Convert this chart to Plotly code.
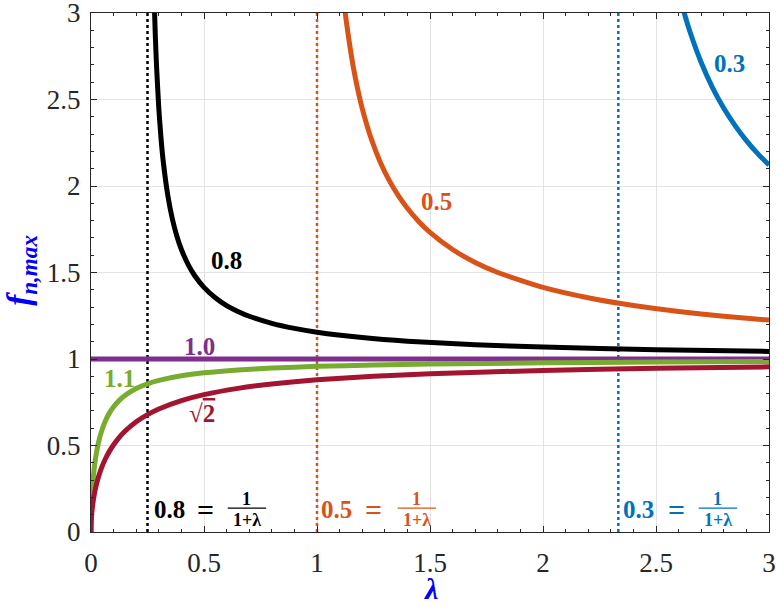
import plotly.graph_objects as go

# lambda samples and f_n,max values
lam_08 = [0.28, 0.285, 0.29, 0.30, 0.31, 0.32, 0.34, 0.36, 0.38, 0.40, 0.43, 0.46, 0.50, 0.55, 0.60, 0.65, 0.70,
          0.80, 0.90, 1.00, 1.20, 1.40, 1.70, 2.00, 2.50, 3.00]
f_08 = [3.055, 2.854, 2.693, 2.449, 2.273, 2.138, 1.944, 1.809, 1.710, 1.633, 1.546, 1.480, 1.414, 1.354, 1.309, 1.275, 1.247,
        1.206, 1.177, 1.155, 1.124, 1.103, 1.083, 1.069, 1.054, 1.044]

lam_05 = [1.11, 1.12, 1.13, 1.15, 1.17, 1.20, 1.24, 1.28, 1.32, 1.36, 1.40, 1.45, 1.50, 1.60, 1.70, 1.80, 2.00,
          2.20, 2.40, 2.60, 2.80, 3.00]
f_05 = [3.177, 3.055, 2.948, 2.769, 2.623, 2.449, 2.273, 2.138, 2.031, 1.944, 1.871, 1.795, 1.732, 1.633, 1.558, 1.500, 1.414,
        1.354, 1.309, 1.275, 1.247, 1.225]

lam_03 = [2.60, 2.62, 2.65, 2.70, 2.75, 2.80, 2.85, 2.90, 2.95, 3.00]
f_03 = [3.122, 3.023, 2.893, 2.714, 2.569, 2.449, 2.349, 2.262, 2.187, 2.121]

lam_10 = [0.0, 3.0]
f_10 = [1.0, 1.0]

lam_low = [0.0, 0.001, 0.0025, 0.005, 0.0075, 0.01, 0.015, 0.02, 0.03, 0.04, 0.05, 0.065, 0.08, 0.10, 0.125, 0.15,
           0.20, 0.25, 0.30, 0.40, 0.50, 0.65, 0.80, 1.00, 1.25, 1.50, 2.00, 2.50, 3.00]
f_11 = [0.0, 0.1043, 0.1636, 0.2283, 0.2761, 0.3148, 0.3764, 0.4247, 0.4981, 0.5528, 0.5957, 0.6457, 0.6842, 0.7237, 0.7609, 0.7891,
        0.8292, 0.8563, 0.8760, 0.9027, 0.9199, 0.9367, 0.9476, 0.9574, 0.9655, 0.9710, 0.9780, 0.9823, 0.9852]
f_sq2 = [0.0, 0.0583, 0.0920, 0.1296, 0.1580, 0.1817, 0.2207, 0.2528, 0.3048, 0.3466, 0.3819, 0.4262, 0.4632, 0.5045, 0.5469, 0.5820,
         0.6370, 0.6786, 0.7113, 0.7598, 0.7941, 0.8303, 0.8556, 0.8795, 0.9001, 0.9147, 0.9340, 0.9461, 0.9545]

# boundaries where g = 1/(1+lambda)
bound_g = ["0.8", "0.5", "0.3"]
bound_lam = [0.25, 1.0, 2.3333]

tick_vals = [0, 0.5, 1, 1.5, 2, 2.5, 3]
tick_text = ["0", "0.5", "1", "1.5", "2", "2.5", "3"]

BLACK = "#000000"
ORANGE = "#D95319"
BLUE = "#0072BD"
PURPLE = "#7E2F8E"
GREEN = "#77AC30"
RED = "#A2142F"
bound_colors = [BLACK, ORANGE, BLUE]

FONT = "Liberation Serif"

fig = go.Figure()

for lx, c in zip(bound_lam, bound_colors):
    fig.add_trace(go.Scatter(x=[lx, lx], y=[0, 3], mode="lines",
                             line=dict(color=c, width=2.5, dash="dot"),
                             hoverinfo="skip", showlegend=False))

curves = [
    (lam_03, f_03, BLUE),
    (lam_05, f_05, ORANGE),
    (lam_08, f_08, BLACK),
    (lam_10, f_10, PURPLE),
    (lam_low, f_11, GREEN),
    (lam_low, f_sq2, RED),
]
for xs, ys, c in curves:
    fig.add_trace(go.Scatter(x=xs, y=ys, mode="lines",
                             line=dict(color=c, width=5, shape="spline", smoothing=0.5),
                             showlegend=False))

# curve labels
labels = [
    (2.823, 2.71, "0.3", BLUE),
    (1.53, 1.91, "0.5", ORANGE),
    (0.60, 1.57, "0.8", BLACK),
    (0.482, 1.075, "1.0", PURPLE),
    (0.128, 0.89, "1.1", GREEN),
    (0.49, 0.685, "√<span style='text-decoration:overline'>2</span>", RED),
]
for x, y, t, c in labels:
    fig.add_annotation(x=x, y=y, text="<b>" + t + "</b>", showarrow=False,
                       font=dict(family=FONT, size=25, color=c))

# boundary labels  "g = 1/(1+λ)"
eq_x = [0.268, 1.01, 2.345]
eq_sign = [0.505, 1.252, 2.59]
frac_c = [0.69, 1.442, 2.774]
for g, ex, es, fc, c in zip(bound_g, eq_x, eq_sign, frac_c, bound_colors):
    fig.add_annotation(x=ex, y=0.13, text="<b>" + g + "</b>", showarrow=False,
                       xanchor="left", font=dict(family=FONT, size=25, color=c))
    fig.add_annotation(x=es, y=0.13, text="<b>=</b>", showarrow=False,
                       font=dict(family=FONT, size=30, color=c))
    fig.add_annotation(x=fc, y=0.19, text="<b>1</b>", showarrow=False,
                       font=dict(family=FONT, size=18, color=c))
    fig.add_annotation(x=fc, y=0.072, text="<b>1+λ</b>", showarrow=False,
                       font=dict(family=FONT, size=18, color=c))
    fig.add_shape(type="line", x0=fc - 0.085, x1=fc + 0.085, y0=0.138, y1=0.138,
                  line=dict(color=c, width=1.3))

# axis titles
fig.add_annotation(xref="paper", yref="paper", x=0.5, y=-0.108, yanchor="middle",
                   text="<b><i>λ</i></b>", showarrow=False,
                   font=dict(family=FONT, size=30, color="#0000FF"))
fig.add_annotation(xref="paper", yref="paper", x=-0.102, y=0.505, xanchor="center",
                   text="<b><i>f<sub>n,max</sub></i></b>", showarrow=False, textangle=-90,
                   font=dict(family=FONT, size=33, color="#0000FF"))

axis_common = dict(
    range=[0, 3], tickvals=tick_vals, ticktext=tick_text,
    showgrid=True, gridcolor="#e3e3e3", gridwidth=1,
    showline=True, linecolor="#262626", linewidth=1, mirror="allticks",
    ticks="inside", ticklen=6, tickcolor="#262626",
    minor=dict(dtick=0.1, ticks="inside", ticklen=3, tickcolor="#262626", showgrid=False),
    tickfont=dict(family=FONT, size=27, color="#262626"),
    ticklabeloverflow="allow",
    automargin=False,
    zeroline=False,
)

fig.update_layout(
    width=776, height=607,
    margin=dict(l=91, r=7, t=13, b=75),
    plot_bgcolor="white", paper_bgcolor="white",
    font=dict(family=FONT),
    xaxis=dict(**axis_common, ticklabelstandoff=7),
    yaxis=dict(**axis_common, ticklabelstandoff=4),
)

fig.write_html("out.html")
